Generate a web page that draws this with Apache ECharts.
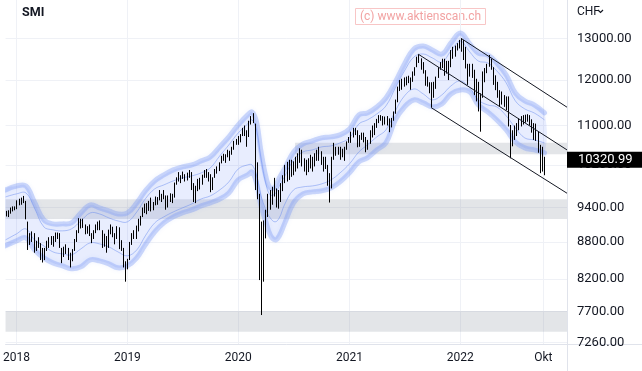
<!DOCTYPE html>
<html><head><meta charset="utf-8">
<script src="https://cdn.jsdelivr.net/npm/echarts@6/dist/echarts.min.js"></script>
<style>html,body{margin:0;padding:0;background:#fff}#c{width:642px;height:371px}</style>
</head><body><div id="c"></div><script>
// ---------- DATA ----------
const firstWeek = '2017-11-27'; // Monday of first weekly bar
const weekHigh = [
 9340,9350,9400,9420,9420,9530,9560,9580,9611,9520,
 9150,8950,8980,8950,8820,8880,8780,8700,8700,8820,
 8880,8900,8900,8960,8960,8950,8700,8720,8760,8700,
 8620,8680,8850,9000,9210,9200,9200,9100,9070,9100,
 8950,9000,9100,9150,9170,9000,8940,8900,9010,9100,
 9060,8950,9070,9050,8830,8700,8480,8520,
 8800,8950,9000,9080,9200,9250,9400,9470,9480,9520,
 9580,9500,9600,9590,9720,9650,9720,9620,9620,9660,
 9650,9860,9960,10060,10000,10070,10020,10050,10100,10060,
 9850,9800,9930,9950,10010,10100,10120,10060,10020,9960,
 10120,10170,10250,10380,10420,10410,10500,10480,10560,10680,
 10720,10780,
 10820,10950,11000,10900,11100,11200,11263,11040,10250,9650,
 9150,9170,9360,9650,9720,9780,9950,9750,9720,9850,
 10000,10200,10260,10300,10300,10270,10360,10430,10530,10500,
 10330,10300,10330,10400,10360,10430,10500,10560,10470,10360,
 10360,10200,10040,10360,10640,10560,10560,10560,10520,10560,
 10670,10760,
 10870,10950,10950,10900,10800,10850,10850,10760,10700,10900,
 11000,11050,11140,11220,11220,11200,11190,11200,11150,11160,
 11300,11560,11850,12000,12030,12060,12080,12100,12060,12200,
 12300,12550,12608,12510,12420,12230,12080,11950,11950,11960,
 12080,12300,12420,12500,12500,12450,12450,12710,12790,12820,
 12880,12960,
 13000,12960,12790,12380,12380,12380,12240,12030,11960,11700,
 12200,12280,12380,12590,12500,12300,12110,11960,11770,11740,
 11660,11630,11630,11010,10900,11000,11050,11150,11200,11220,
 11230,11240,11220,11130,11050,11040,10870,10600,10560,10360
];
const weekLow = [
 9240,9230,9290,9330,9350,9370,9440,9450,9480,9190,
 8666,8750,8800,8620,8650,8700,8500,8460,8500,8650,
 8700,8750,8720,8800,8850,8700,8450,8550,8600,8500,
 8380,8480,8650,8800,8950,9030,9040,8930,8940,8900,
 8780,8850,8950,9000,9000,8700,8720,8620,8700,8930,
 8880,8760,8850,8680,8650,8380,8155,8350,
 8500,8750,8850,8850,8980,9080,9230,9300,9280,9340,
 9330,9350,9440,9450,9530,9500,9550,9360,9400,9500,
 9480,9580,9820,9880,9850,9930,9880,9900,9950,9720,
 9500,9480,9700,9730,9820,9950,9950,9880,9680,9720,
 9950,10030,10080,10230,10280,10240,10350,10280,10400,10500,
 10600,10600,
 10650,10780,10780,10560,10760,11020,11050,9720,9550,8180,
 7650,8155,8860,9230,9360,9450,9600,9400,9380,9500,
 9700,9850,9880,9910,9970,10000,10070,10130,10240,10170,
 10070,10000,10060,10130,10070,10170,10280,10280,10200,10070,
 10120,9800,9490,9750,10300,10380,10400,10300,10350,10280,
 10500,10640,
 10640,10750,10800,10550,10560,10700,10650,10450,10500,10620,
 10750,10800,10950,11050,11100,11000,11020,11000,10860,10960,
 11100,11250,11500,11750,11780,11850,11880,11930,11780,11960,
 12100,12300,12400,12240,12150,11870,11850,11700,11383,11600,
 11800,12050,12240,12280,12100,12150,12000,12300,12500,12550,
 12700,12750,
 12670,12470,12270,11890,12080,12050,11660,11520,11300,10870,
 11600,11950,12160,12310,12240,11890,11770,11600,11400,11450,
 11400,11330,10980,10330,10570,10700,10780,10900,10980,11020,
 11060,11080,11000,10850,10700,10680,10440,10040,10070,10000
];
const lastPrice = 10320.99;

const bandDates = ['2017-11-26','2018-01-01','2018-02-01','2018-03-01','2018-04-01','2018-05-01','2018-06-01','2018-07-01','2018-08-01','2018-09-01','2018-10-01','2018-11-01','2018-12-01',
 '2019-01-01','2019-02-01','2019-03-01','2019-04-01','2019-05-01','2019-06-01','2019-07-01','2019-08-01','2019-09-01','2019-10-01','2019-11-01','2019-12-01',
 '2020-01-01','2020-02-01','2020-02-15','2020-03-01','2020-03-15','2020-04-01','2020-04-15','2020-05-01','2020-05-15','2020-06-01','2020-07-01','2020-08-01','2020-09-01','2020-10-01','2020-11-01','2020-12-01',
 '2021-01-01','2021-02-01','2021-03-01','2021-04-01','2021-05-01','2021-06-01','2021-07-01','2021-08-01','2021-09-01','2021-10-01','2021-11-01','2021-12-01',
 '2022-01-01','2022-02-01','2022-03-01','2022-04-01','2022-05-01','2022-06-01','2022-07-01','2022-08-01','2022-09-01','2022-10-05'];
const bandUpperOuter = [9723,9797,9797,9502,9180,9110,9110,9127,9304,9447,9393,9339,9286,
 9304,9483,9704,9892,10006,10103,10161,10200,10278,10357,10558,10762,
 11012,11225,11290,11076,10497,9968,9760,9779,9949,10122,10457,10618,10680,10741,10762,10803,
 10928,11225,11268,11398,11596,11957,12376,12736,12810,12712,12615,12884,
 13132,12859,12639,12591,12400,12118,11708,11530,11442,11268];
const bandUpperInner = [9593,9649,9667,9393,9058,9006,8989,9023,9162,9304,9286,9215,9162,
 9145,9321,9556,9742,9816,9892,9949,9987,10045,10142,10377,10598,
 10845,11033,11118,10907,10357,9835,9630,9649,9797,9968,10298,10457,10497,10558,10578,10639,
 10741,11033,11118,11247,11420,11821,12212,12543,12615,12519,12423,12688,
 12933,12664,12447,12400,12212,11935,11530,11355,11268,11118];
const bandLowerInner = [8835,8937,9023,8835,8734,8634,8601,8585,8684,8785,8768,8717,8634,
 8569,8667,8903,9127,9233,9321,9393,9465,9556,9612,9723,9873,
 10122,10200,10200,10006,9630,9357,9215,9145,9215,9447,9723,9779,9797,9835,9911,10045,
 10220,10457,10598,10762,10907,11311,11641,11798,11685,11552,11663,11866,
 11980,11821,11552,11442,11398,11204,10949,10741,10700,10639];
const bandLowerOuter = [8734,8818,8869,8667,8536,8454,8406,8358,8390,8503,8487,8438,8374,
 8406,8536,8751,8972,9127,9233,9304,9357,9429,9483,9556,9667,
 9911,10006,10064,9854,9447,9145,8920,8835,8903,9110,9483,9649,9686,9704,9760,9873,
 10045,10259,10338,10497,10639,11118,11398,11552,11486,11398,11464,11685,
 11775,11730,11442,11290,11118,10907,10659,10538,10497,10437];

const channelStartDate = ['2022-01-03','2021-08-16','2021-09-27'];
const channelStartValue = [13000,12608,11383];
const channelEndDate = '2022-12-18';
const channelEndValue = [11392,10497,9661];

const zoneLow = [7410,9195,10410];
const zoneHigh = [7710,9550,10640];
const zoneStart = [null,null,'2020-07-06'];

const yTickValues = [7260,7700,8200,8800,9400,10200,11000,12000,13000];
const yRange = [7237,13990];
const xRange = ['2017-11-26','2022-12-18'];
const xTickDates = ['2018-01-01','2019-01-01','2020-01-01','2021-01-01','2022-01-01','2022-10-01'];
const xTickLabels = ['2018','2019','2020','2021','2022','Okt'];

// ---------- BUILD ----------
const DAY = 86400000;
function ts(s){const p=s.split('-').map(Number);return new Date(p[0],p[1]-1,p[2]).getTime();}
const fw = firstWeek.split('-').map(Number);
const weekTimes = weekHigh.map((_,i)=>new Date(fw[0],fw[1]-1,fw[2]+7*i).getTime());
const L = Math.log;
const FONT = 'Roboto, "Liberation Sans", sans-serif';
const xTickTimes = xTickDates.map(ts);
const bandT = bandDates.map(ts);
const SMOOTH = 0.4;

function smoothLine(vals, style, z){
  return {type:'custom', z:z, silent:true, clip:true,
    data:[[bandT[0], L(vals[0])]], encode:{x:0,y:1},
    renderItem:(params,api)=>({type:'polyline',
      shape:{points:bandT.map((t,i)=>api.coord([t,L(vals[i])])),smooth:SMOOTH},
      style:Object.assign({fill:null},style)})};
}

const zoneData = zoneLow.map((lo,i)=>{
  const a = {yAxis: L(lo)}, b = {yAxis: L(zoneHigh[i])};
  if (zoneStart[i]) { a.xAxis = ts(zoneStart[i]); b.xAxis = ts(xRange[1]); }
  return [a,b];
});

const thick = {stroke:'rgba(118,150,243,0.36)',lineWidth:5,lineCap:'round',lineJoin:'round',shadowColor:'rgba(118,150,243,0.32)',shadowBlur:4};
const thin = {stroke:'rgba(100,135,238,0.48)',lineWidth:1};

const channels = channelStartDate.map((d,i)=>({type:'line',symbol:'none',silent:true,z:6,clip:false,
  data:[[ts(d),L(channelStartValue[i])],[ts(channelEndDate),L(channelEndValue[i])]],
  lineStyle:{color:'#131722',width:1}}));
channels[0].markLine = {silent:true,symbol:['none','none'],animation:false,
  lineStyle:{color:'rgba(0,0,0,0)',width:0,opacity:1},
  label:{show:true,opacity:1,position:'end',distance:0,formatter:()=>lastPrice.toFixed(2),
    backgroundColor:'#000',color:'#fff',fontSize:13,fontFamily:FONT,lineHeight:13,padding:[2,10,1,11]},
  data:[{yAxis:L(lastPrice)}]};

const option = {
  animation:false,
  grid:{left:0,right:75,top:0,bottom:27,containLabel:false},
  title:{text:'SMI',left:22,top:6,padding:0,textStyle:{fontSize:12.5,fontWeight:'bold',color:'#131722',fontFamily:FONT}},
  xAxis:{type:'value',min:ts(xRange[0]),max:ts(xRange[1]),
    axisLine:{show:true,lineStyle:{color:'#e0e3eb'}},
    axisTick:{show:false,customValues:xTickTimes},
    splitLine:{show:true,lineStyle:{color:'#eff1f6'}},
    axisLabel:{customValues:xTickTimes,color:'#131722',fontSize:12,fontFamily:FONT,margin:8,
      formatter:v=>{const i=xTickTimes.findIndex(t=>Math.abs(t-v)<DAY);return i>=0?xTickLabels[i]:'';}}},
  yAxis:{type:'value',position:'right',min:L(yRange[0]),max:L(yRange[1]),
    axisLine:{show:true,lineStyle:{color:'#e0e3eb'}},
    axisTick:{show:false,customValues:yTickValues.map(L)},
    splitLine:{show:true,lineStyle:{color:'#eff1f6'}},
    axisLabel:{customValues:yTickValues.map(L),color:'#131722',fontSize:13,fontFamily:FONT,margin:10,
      formatter:v=>Math.exp(v).toFixed(2)}},
  series:[
    {type:'custom',name:'bandFill',z:1,silent:true,clip:true,
      data:[[bandT[0],L(bandLowerOuter[0])]],encode:{x:0,y:1},
      renderItem:(params,api)=>{
        const up = bandT.map((t,i)=>api.coord([t,L(bandUpperOuter[i])]));
        const lo = bandT.map((t,i)=>api.coord([t,L(bandLowerOuter[i])])).reverse();
        return {type:'polygon',shape:{points:up.concat(lo),smooth:SMOOTH},style:{fill:'rgba(66,110,245,0.12)',stroke:null}};
      },
      markArea:{silent:true,itemStyle:{color:'rgba(140,145,160,0.24)'},data:zoneData}},
    smoothLine(bandUpperOuter,thick,3),
    smoothLine(bandLowerOuter,thick,3),
    smoothLine(bandUpperInner,thin,3),
    smoothLine(bandLowerInner,thin,3),
    {type:'custom',name:'SMI',z:5,clip:true,silent:true,
      data:weekTimes.map((t,i)=>[t,L(weekLow[i]),L(weekHigh[i])]),
      encode:{x:0,y:[1,2]},
      renderItem:(params,api)=>{
        const t=api.value(0);
        const lo=api.coord([t,api.value(1)]), hi=api.coord([t,api.value(2)]);
        const x=Math.round(lo[0])+0.5;
        return {type:'line',shape:{x1:x,y1:lo[1],x2:x,y2:hi[1]},style:{stroke:'#000',lineWidth:1}};
      }}
  ].concat(channels),
  graphic:[
    {type:'line',silent:true,shape:{x1:567.5,y1:344,x2:567.5,y2:371},style:{stroke:'#e0e3eb',lineWidth:1}},
    {type:'line',silent:true,shape:{x1:567,y1:344.5,x2:642,y2:344.5},style:{stroke:'#e0e3eb',lineWidth:1}},
    {type:'rect',silent:true,shape:{x:355.5,y:8.5,width:130,height:16},style:{fill:'rgba(255,255,255,0.5)',stroke:'#f8c6c6',lineWidth:1}},
    {type:'text',silent:true,x:420.5,y:16.5,style:{text:'(c) www.aktienscan.ch',fill:'#f2a3a3',font:'12px '+FONT,align:'center',verticalAlign:'middle'}},
    {type:'text',silent:true,x:577,y:12,style:{text:'CHF',fill:'#131722',font:'12px '+FONT,align:'left',verticalAlign:'middle'}},
    {type:'polyline',silent:true,shape:{points:[[598,10],[600.5,12.5],[603,10]]},style:{stroke:'#131722',lineWidth:1.2,fill:null}}
  ]
};
echarts.init(document.getElementById('c')).setOption(option);
</script></body></html>
